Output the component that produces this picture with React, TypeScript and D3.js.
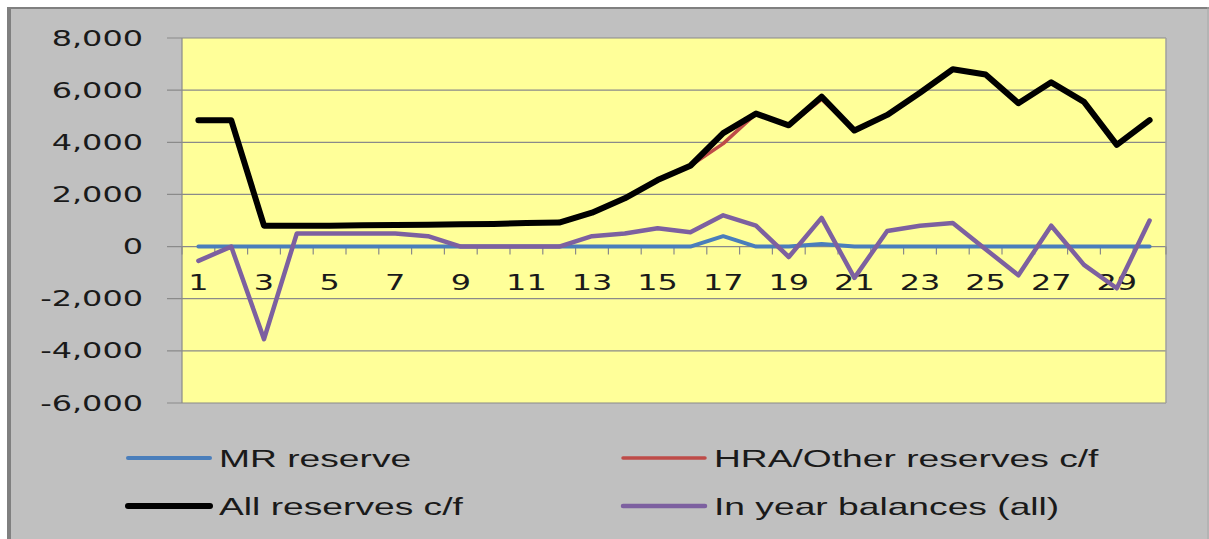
import React from 'react';
import * as d3 from 'd3';

// years 1..30 of the plan
const categories = [1, 2, 3, 4, 5, 6, 7, 8, 9, 10, 11, 12, 13, 14, 15, 16, 17, 18, 19, 20, 21, 22, 23, 24, 25, 26, 27, 28, 29, 30];
const xTickLabels = [1, 3, 5, 7, 9, 11, 13, 15, 17, 19, 21, 23, 25, 27, 29];
const yTicks = [-6000, -4000, -2000, 0, 2000, 4000, 6000, 8000];

const mrReserve = [0, 0, 0, 0, 0, 0, 0, 0, 0, 0, 0, 0, 0, 0, 0, 0, 400, 0, 0, 100, 0, 0, 0, 0, 0, 0, 0, 0, 0, 0];
const hraReserves = [4850, 4850, 800, 800, 800, 820, 830, 840, 860, 870, 900, 920, 1300, 1850, 2550, 3100, 3950, 5100, 4650, 5650, 4450, 5050, 5900, 6800, 6600, 5500, 6300, 5550, 3900, 4850];
const allReserves = [4850, 4850, 800, 800, 800, 820, 830, 840, 860, 870, 900, 920, 1300, 1850, 2550, 3100, 4350, 5100, 4650, 5750, 4450, 5050, 5900, 6800, 6600, 5500, 6300, 5550, 3900, 4850];
const inYearBalances = [-550, 0, -3550, 500, 500, 500, 500, 400, 0, 0, 0, 0, 400, 500, 700, 550, 1200, 800, -400, 1100, -1200, 600, 800, 900, -100, -1100, 800, -700, -1600, 1000];

const seriesNames = ['MR reserve', 'HRA/Other reserves c/f', 'All reserves c/f', 'In year balances (all)'];
const seriesColors = ['#4a7ebb', '#be4b48', '#000000', '#7d60a0'];
const seriesWidths = [4, 3.5, 6, 4.5];

const W = 1209;
const H = 539;
const plot = { left: 182, right: 1166, top: 38, bottom: 403 };
const axisFont = 'DejaVu Sans, Verdana, sans-serif';
const legendFont = 'Liberation Sans, Arial, sans-serif';

const App = () => {
  const x = d3.scaleBand<number>().domain(categories).range([plot.left, plot.right]);
  const cx = (c: number) => (x(c) ?? 0) + x.bandwidth() / 2;
  const y = d3.scaleLinear().domain([-6000, 8000]).range([plot.bottom, plot.top]);
  // Excel shows a plain hyphen for negatives
  const fmt = (v: number) => d3.format(',')(v).replace('\u2212', '-');

  const series = [mrReserve, hraReserves, allReserves, inYearBalances];
  const line = d3.line<number>()
    .x((_, i) => cx(categories[i]))
    .y(d => y(d));

  const y0 = y(0);
  // category boundaries for the tick marks on the zero axis
  const boundaries = categories.map(c => x(c) ?? 0).concat([plot.right]);

  // legend: two columns, two rows
  const legendPos = [
    { lx: 128, ly: 458 },
    { lx: 623, ly: 458 },
    { lx: 128, ly: 506 },
    { lx: 623, ly: 506 },
  ];

  return (
    <svg width={W} height={H} style={{ position: 'absolute', left: 0, top: 0 }}>
      <rect x={0} y={0} width={W} height={H} fill="#ffffff" />
      {/* chart area */}
      <rect x={7} y={7} width={W} height={H} fill="#c0c0c0" />
      <line x1={9} x2={9} y1={7} y2={H} stroke="#808080" strokeWidth={4} />
      <line x1={7} x2={W} y1={8} y2={8} stroke="#808080" strokeWidth={2} />
      <line x1={1208} x2={1208} y1={7} y2={H} stroke="#a8a8a8" strokeWidth={1} />

      {/* plot area */}
      <rect x={plot.left} y={plot.top} width={plot.right - plot.left} height={plot.bottom - plot.top} fill="#ffff99" />

      {/* gridlines + y ticks */}
      {yTicks.map(t => (
        <g key={t}>
          <line x1={167} x2={plot.right} y1={y(t)} y2={y(t)} stroke="#8a8a8a" strokeWidth={1.2} />
          <text
            transform={`translate(143, ${y(t) + 7.5}) scale(1.52, 1)`}
            textAnchor="end"
            fontFamily={axisFont}
            fontSize={21}
            fill="#1a1a1a"
          >
            {fmt(t)}
          </text>
        </g>
      ))}
      <line x1={plot.left} x2={plot.left} y1={plot.top} y2={plot.bottom} stroke="#8a8a8a" strokeWidth={1.2} />
      <line x1={plot.right} x2={plot.right} y1={plot.top} y2={plot.bottom} stroke="#a0a0a0" strokeWidth={1.5} />

      {/* category axis at zero */}
      {boundaries.map((b, i) => (
        <line key={i} x1={b} x2={b} y1={y0} y2={y0 + 8} stroke="#8a8a8a" strokeWidth={1.2} />
      ))}
      {xTickLabels.map(c => (
        <text
          key={c}
          transform={`translate(${cx(c)}, 290) scale(1.52, 1)`}
          textAnchor="middle"
          fontFamily={axisFont}
          fontSize={21}
          fill="#1a1a1a"
        >
          {c}
        </text>
      ))}

      {/* series */}
      {series.map((s, i) => (
        <path
          key={seriesNames[i]}
          d={line(s) ?? ''}
          fill="none"
          stroke={seriesColors[i]}
          strokeWidth={seriesWidths[i]}
          strokeLinejoin="round"
          strokeLinecap="round"
        />
      ))}

      {/* legend */}
      {seriesNames.map((name, i) => (
        <g key={name}>
          <line
            x1={legendPos[i].lx}
            x2={legendPos[i].lx + 82}
            y1={legendPos[i].ly}
            y2={legendPos[i].ly}
            stroke={seriesColors[i]}
            strokeWidth={seriesWidths[i]}
            strokeLinecap="round"
          />
          <text
            transform={`translate(${legendPos[i].lx + 91}, ${legendPos[i].ly + 9}) scale(1.55, 1)`}
            fontFamily={legendFont}
            fontSize={24}
            fill="#1a1a1a"
          >
            {name}
          </text>
        </g>
      ))}
    </svg>
  );
};

export default App;
